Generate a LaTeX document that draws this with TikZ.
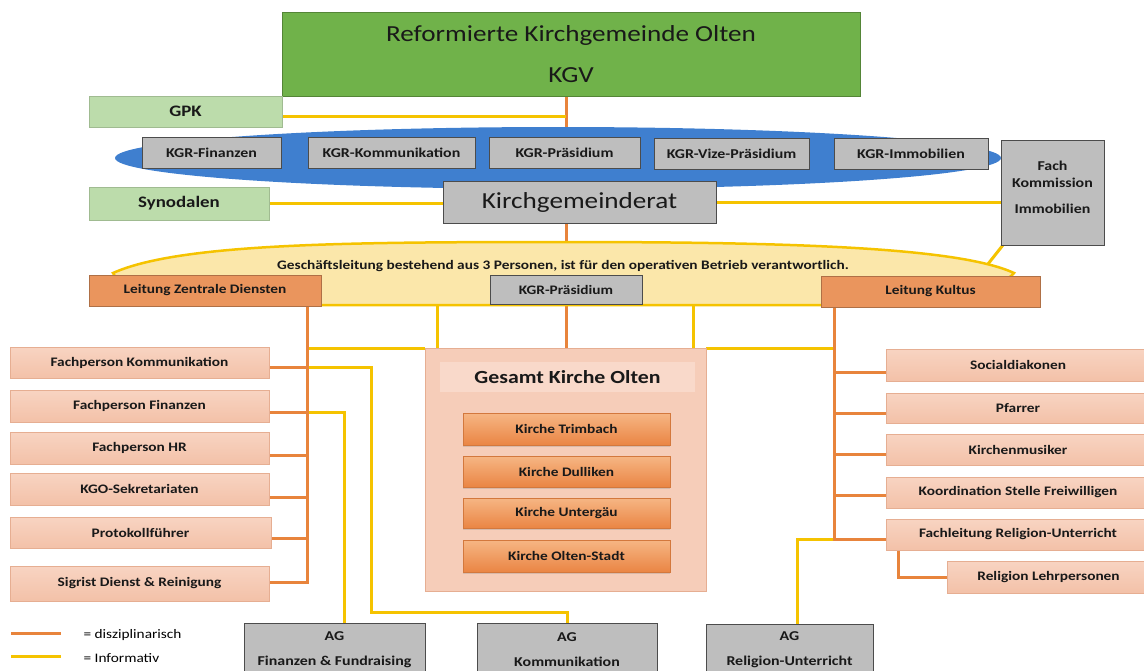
\documentclass[tikz,border=0pt]{standalone}
\usepackage{fontspec}
\setmainfont{Carlito}[FakeStretch=1.18]
\usetikzlibrary{calc,backgrounds,shadows}
\definecolor{kgvgreen}{HTML}{70B24A}
\definecolor{ltgreen}{HTML}{BCDCAB}
\definecolor{bblue}{HTML}{3F7FCF}
\definecolor{gbox}{HTML}{BEBEBE}
\definecolor{obox}{HTML}{EA955D}
\definecolor{ptop}{HTML}{F8D4C2}
\definecolor{pbot}{HTML}{F3C1A8}
\definecolor{pline}{HTML}{E6AE92}
\definecolor{ktop}{HTML}{F6B684}
\definecolor{kbot}{HTML}{EA8544}
\definecolor{gfill}{HTML}{F6CDB9}
\definecolor{gband}{HTML}{F9D9CA}
\definecolor{oline}{HTML}{E8843C}
\definecolor{yline}{HTML}{F5C300}
\definecolor{yfill}{HTML}{FBE7AA}
\tikzset{
  base/.style={anchor=north west, inner sep=0pt, outer sep=0pt, align=center, text=black!90},
  greybox/.style={base, fill=gbox, draw=black!70, line width=0.9},
  greenbox/.style={base, fill=ltgreen, draw=ltgreen!85!black, line width=0.6},
  orangebox/.style={base, fill=obox, draw=obox!75!black, line width=0.8},
  pinkbox/.style={base, top color=ptop, bottom color=pbot, draw=pline, line width=0.8},
  kirchebox/.style={base, top color=ktop, bottom color=kbot, draw=kbot!90!black, line width=0.3,
    drop shadow={shadow xshift=0pt, shadow yshift=-2pt, opacity=0.25}},
  dis/.style={draw=oline, line width=3},
  inf/.style={draw=yline, line width=3},
  fbig/.style={font=\fontsize{23}{41}\selectfont},
  fmid/.style={font=\bfseries\fontsize{16}{19}\selectfont},
  fkgr/.style={font=\bfseries\fontsize{13.5}{17}\selectfont},
  fsm/.style={font=\bfseries\fontsize{13}{15}\selectfont},
  fxs/.style={font=\bfseries\fontsize{13}{15}\selectfont},
  fag/.style={font=\bfseries\fontsize{13.5}{25}\selectfont},
  fleg/.style={font=\fontsize{13}{15}\selectfont},
}
\begin{document}
\begin{tikzpicture}[x=1pt,y=-1pt]
\useasboundingbox (0,0) rectangle (1144,670);
\clip (0,0) rectangle (1144,670);

\coordinate (sp) at (566,0);
\coordinate (tl) at (307,0);
\coordinate (tr) at (834,0);
\coordinate (yk) at (371,612);
\coordinate (yf) at (344,0);
\coordinate (yr) at (797,0);
\coordinate (xr) at (898,0);

% top
\node[base, fill=kgvgreen, draw=kgvgreen!75!black, line width=0.6, minimum width=578, minimum height=84, fbig] (kgv) at (282,12) {Reformierte Kirchgemeinde Olten\\KGV};
\node[greenbox, minimum width=193, minimum height=31, fmid] (gpk) at (89,96) {GPK};
\node[greenbox, minimum width=180, minimum height=33, fmid] (syn) at (89,187) {Synodalen};

% blue ellipse
\fill[bblue] (558,158) ellipse [x radius=443, y radius=31];
\node[greybox, minimum width=139, minimum height=31, fkgr] (kf) at (142,137) {KGR-Finanzen};
\node[greybox, minimum width=167, minimum height=31, fkgr] (kk) at (308,137) {KGR-Kommunikation};
\node[greybox, minimum width=151, minimum height=31, fkgr] (kp) at (489,137) {KGR-Präsidium};
\node[greybox, minimum width=155, minimum height=31, fkgr] (kv) at (654,138) {KGR-Vize-Präsidium};
\node[greybox, minimum width=154, minimum height=31, fkgr] (ki) at (834,138) {KGR-Immobilien};

\node[greybox, minimum width=273, minimum height=42, font=\fontsize{23}{28}\selectfont] (kgr) at (443,181) {Kirchgemeinderat};
\node[greybox, minimum width=103, minimum height=105, fkgr] (fach) at (1001,140) {Fach\\Kommission\\[9pt]Immobilien\\[-6pt]\mbox{}};

% Geschaeftsleitung
\coordinate (gtop) at (566,243);
\coordinate (gfr) at (988,264);
\path[fill=yfill, draw=yline, line width=2.5]
  (113,273) .. controls (180,243) and (350,242) .. (566,242)
  .. controls (800,242) and (960,248) .. (1014,273)
  .. controls (1000,292) and (900,305) .. (820,305) -- (320,305)
  .. controls (200,304) and (120,292) .. (113,273) -- cycle;
\node[fxs, text=black!90] (gl) at (563,266) {Geschäftsleitung bestehend aus 3 Personen, ist für den operativen Betrieb verantwortlich.};

\node[orangebox, minimum width=232, minimum height=31, fxs] (lzd) at (89,275) {Leitung Zentrale Diensten};
\node[greybox, minimum width=152, minimum height=29, fsm] (kp2) at (490,275) {KGR-Präsidium};
\node[orangebox, minimum width=219, minimum height=31, fxs] (lk) at (821,276) {Leitung Kultus};

% Gesamt Kirche Olten
\node[base, fill=gfill, draw=pline, line width=0.6, minimum width=281, minimum height=243] (gko) at (425,348) {};
\node[base, fill=gband, minimum width=255, minimum height=30, font=\bfseries\fontsize{18.5}{22}\selectfont] (gt) at (440,362) {Gesamt Kirche Olten};
\node[kirchebox, minimum width=207, minimum height=32, fxs] (kt) at (463,413) {Kirche Trimbach};
\node[kirchebox, minimum width=207, minimum height=31, fxs] (kd) at (463,456) {Kirche Dulliken};
\node[kirchebox, minimum width=207, minimum height=30, fxs] (ku) at (463,498) {Kirche Untergäu};
\node[kirchebox, minimum width=207, minimum height=32, fxs] (ko) at (463,540) {Kirche Olten-Stadt};

% left column
\node[pinkbox, minimum width=259, minimum height=31, fsm] (fk) at (10,347) {Fachperson Kommunikation};
\node[pinkbox, minimum width=259, minimum height=32, fsm] (ff) at (10,390) {Fachperson Finanzen};
\node[pinkbox, minimum width=259, minimum height=32, fsm] (fhr) at (10,432) {Fachperson HR};
\node[pinkbox, minimum width=259, minimum height=32, fsm] (kgo) at (10,473) {KGO-Sekretariaten};
\node[pinkbox, minimum width=261, minimum height=31, fsm] (pf) at (10,517) {Protokollführer};
\node[pinkbox, minimum width=259, minimum height=35, fsm] (sig) at (10,566) {Sigrist Dienst \& Reinigung};

% right column
\node[pinkbox, minimum width=264, minimum height=32, fsm] (sd) at (886,349) {Socialdiakonen};
\node[pinkbox, minimum width=264, minimum height=30, fsm] (pfa) at (886,393) {Pfarrer};
\node[pinkbox, minimum width=264, minimum height=31, fsm] (km) at (886,434) {Kirchenmusiker};
\node[pinkbox, minimum width=264, minimum height=31, fsm] (ksf) at (886,477) {Koordination Stelle Freiwilligen};
\node[pinkbox, minimum width=264, minimum height=31, fsm] (fru) at (886,519) {Fachleitung Religion-Unterricht};
\node[pinkbox, minimum width=203, minimum height=32, fsm] (rlp) at (947,561) {Religion Lehrpersonen};

% AG boxes
\node[greybox, minimum width=181, minimum height=53, fag] (agf) at (244,623) {AG\\Finanzen \& Fundraising};
\node[greybox, minimum width=180, minimum height=53, fag] (agk) at (477,623) {AG\\Kommunikation};
\node[greybox, minimum width=167, minimum height=52, fag] (agr) at (706,624) {AG\\Religion-Unterricht};

% connectors, behind the shapes
\begin{scope}[on background layer]
\draw[dis] (kgv.south -| sp) -- (kgr.north -| sp);
\draw[inf] ([yshift=-5pt]gpk.east) coordinate (g1) -- (g1 -| sp);
\draw[inf] (syn.east) -- (syn.east -| kgr.west);
\draw[inf] (kgr.east) -- (kgr.east -| fach.west);
\draw[dis] (kgr.south -| sp) -- (gtop);
\draw[inf] ([xshift=2pt]fach.south west) -- (gfr);

\coordinate (gb1) at (437,300);
\coordinate (gb2) at (693,300);
\draw[inf] (gb1) -- (gb1 |- gko.north);
\draw[inf] (gb2) -- (gb2 |- gko.north);
\draw[dis] (kp2.south -| sp) -- (gko.north -| sp);
\draw[inf] (gko.north west) -- (gko.north west -| tl);
\draw[inf] (gko.north east) -- (gko.north east -| tr);

\path ([yshift=-5pt]fk.east) coordinate (fkc);
\path ([yshift=-6pt]ff.east) coordinate (ffc);
\path ([yshift=-5pt]fru.west) coordinate (frc);
\draw[inf] (fkc -| tl) -| (yk) -| (agk.north);
\draw[inf] (ffc -| tl) -| (agf.north -| yf);
\draw[inf] (frc -| tr) -| (agr.north -| yr);

\draw[dis] (fkc) -- (fkc -| tl);
\draw[dis] (ffc) -- (ffc -| tl);
\draw[dis] ([yshift=-7pt]fhr.east) coordinate (c3) -- (c3 -| tl);
\draw[dis] ([yshift=-8pt]kgo.east) coordinate (c4) -- (c4 -| tl);
\draw[dis] ([yshift=-6pt]pf.east) coordinate (c5) -- (c5 -| tl);
\draw[dis] ([yshift=1pt]sig.east) coordinate (c6) -- (c6 -| tl);
\draw[dis] (lzd.south -| tl) -- ([yshift=-1.5pt]c6 -| tl);

\draw[dis] ([yshift=-7pt]sd.west) coordinate (r1) -- (r1 -| tr);
\draw[dis] ([yshift=-5pt]pfa.west) coordinate (r2) -- (r2 -| tr);
\draw[dis] ([yshift=-5pt]km.west) coordinate (r3) -- (r3 -| tr);
\draw[dis] ([yshift=-3pt]ksf.west) coordinate (r4) -- (r4 -| tr);
\draw[dis] (frc) -- (frc -| tr);
\draw[dis] (lk.south -| tr) -- ([yshift=-1.5pt]frc -| tr);
\draw[dis] (fru.south -| xr) |- (rlp.west);
\end{scope}

% legend
\coordinate (la1) at (11,633); \coordinate (la2) at (61,633);
\coordinate (lb1) at (11,656); \coordinate (lb2) at (61,656);
\draw[dis] (la1) -- (la2);
\draw[inf] (lb1) -- (lb2);
\node[fleg, anchor=west] (leg1) at (80,635) {= disziplinarisch};
\node[fleg, anchor=west] (leg2) at (80,658) {= Informativ};
\end{tikzpicture}
\end{document}
